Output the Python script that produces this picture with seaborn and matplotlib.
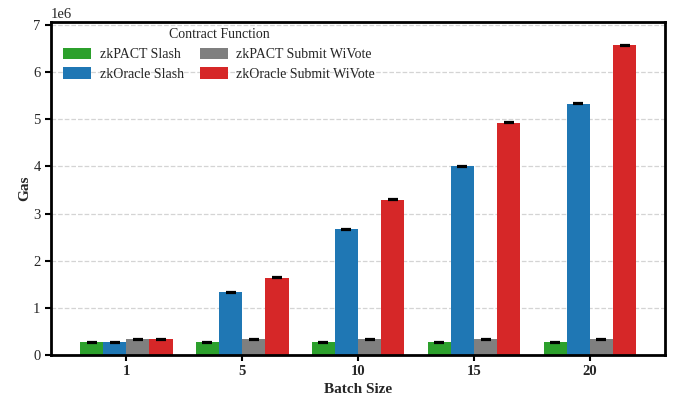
import numpy as np
import pandas as pd
import seaborn as sns
import matplotlib.pyplot as plt

batch_sizes = ["1", "5", "10", "15", "20"]
functions = ["zkPACT Slash", "zkOracle Slash", "zkPACT Submit WiVote", "zkOracle Submit WiVote"]
pact_slash = [0.27e6, 0.27e6, 0.27e6, 0.27e6, 0.27e6]
oracle_slash = [0.27e6, 1.33e6, 2.67e6, 4.00e6, 5.33e6]
pact_submit = [0.33e6, 0.33e6, 0.33e6, 0.33e6, 0.33e6]
oracle_submit = [0.33e6, 1.64e6, 3.29e6, 4.93e6, 6.57e6]
gas_std = [0.01e6, 0.01e6, 0.01e6, 0.01e6]
colors = ["#2ca02c", "#1f77b4", "#7f7f7f", "#d62728"]

sns.set_style("ticks")
plt.rcParams["font.family"] = ["Liberation Serif", "DejaVu Serif"]

series = [pact_slash, oracle_slash, pact_submit, oracle_submit]
df = pd.DataFrame({
    "Batch Size": np.tile(batch_sizes, len(functions)),
    "Contract Function": np.repeat(functions, len(batch_sizes)),
    "Gas": np.concatenate(series),
})

fig = plt.figure(figsize=(6.76, 3.97), dpi=100)
ax = fig.add_axes([0.0754, 0.106, 0.9086, 0.839])
sns.barplot(data=df, x="Batch Size", y="Gas", hue="Contract Function",
            order=batch_sizes, hue_order=functions, palette=colors,
            saturation=1, errorbar=None, width=0.8, linewidth=0,
            ax=ax, zorder=2)

# tiny error caps on top of each bar
for k, (vals, sd) in enumerate(zip(series, gas_std)):
    cont = ax.containers[k]
    xs = [p.get_x() + p.get_width() / 2 for p in cont]
    ax.errorbar(xs, vals, yerr=sd, fmt="none", ecolor="black",
                elinewidth=1.2, capsize=3.3, capthick=1.6, zorder=3)

ax.set_xlim(-0.65, 4.65)
ax.set_ylim(0, 7.07e6)
ax.yaxis.grid(True, linestyle="--", color="#d4d4d4", linewidth=0.9, zorder=0)
ax.set_axisbelow(True)
for s in ax.spines.values():
    s.set_visible(True)
    s.set_color("black")
    s.set_linewidth(2)
ax.tick_params(axis="both", direction="out", length=4, width=1.5, color="black", labelsize=10.5)
for lbl in ax.get_xticklabels():
    lbl.set_fontweight("bold")
ax.yaxis.get_offset_text().set_fontsize(10.5)
ax.set_xlabel("Batch Size", fontsize=11, fontweight="bold", labelpad=3)
ax.set_ylabel("Gas", fontsize=11, fontweight="bold", labelpad=1.5)

leg = ax.legend(title="Contract Function", ncol=2, frameon=False, loc="upper left",
                bbox_to_anchor=(0.0, 1.018), fontsize=10, title_fontsize=10,
                handlelength=2.0, handleheight=0.9, columnspacing=1.2,
                labelspacing=0.45, handletextpad=0.6)

fig.savefig("out.png", dpi=100)
